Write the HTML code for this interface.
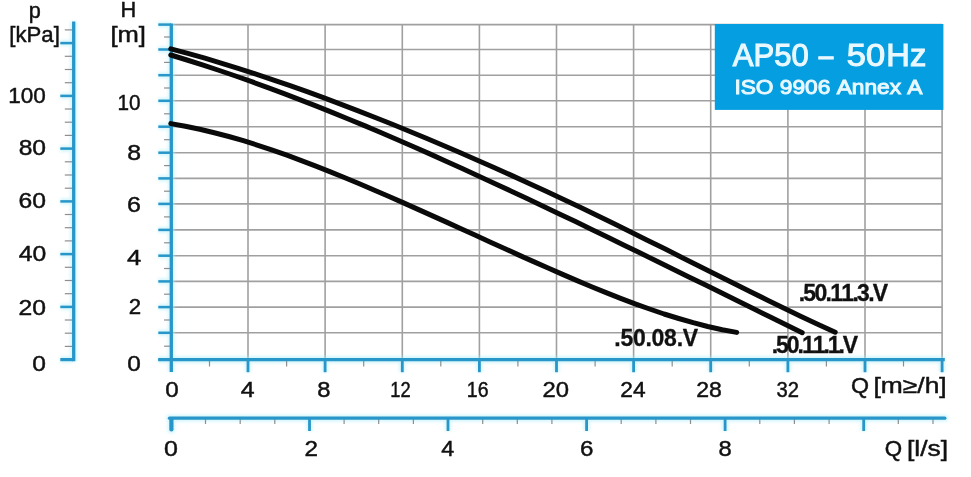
<!DOCTYPE html>
<html><head><meta charset="utf-8"><title>AP50 – 50 Hz</title>
<style>html,body{margin:0;padding:0;background:#fff;}body{width:971px;height:477px;overflow:hidden;font-family:"Liberation Sans",sans-serif;}svg{display:block;}</style>
</head><body>
<svg width="971" height="477" viewBox="0 0 971 477">
<rect width="971" height="477" fill="#fff"/>
<g stroke="#a0a0a0" stroke-width="1.6" fill="none">
<line x1="170.9" y1="332.8" x2="942.1" y2="332.8"/>
<line x1="170.9" y1="307.1" x2="942.1" y2="307.1"/>
<line x1="170.9" y1="281.4" x2="942.1" y2="281.4"/>
<line x1="170.9" y1="255.7" x2="942.1" y2="255.7"/>
<line x1="170.9" y1="229.9" x2="942.1" y2="229.9"/>
<line x1="170.9" y1="203.9" x2="942.1" y2="203.9"/>
<line x1="170.9" y1="178.4" x2="942.1" y2="178.4"/>
<line x1="170.9" y1="152.7" x2="942.1" y2="152.7"/>
<line x1="170.9" y1="126.7" x2="942.1" y2="126.7"/>
<line x1="170.9" y1="100.8" x2="942.1" y2="100.8"/>
<line x1="170.9" y1="75.2" x2="942.1" y2="75.2"/>
<line x1="170.9" y1="49.5" x2="942.1" y2="49.5"/>
<line x1="170.9" y1="24.6" x2="942.1" y2="24.6"/>
<line x1="248.0" y1="24.6" x2="248.0" y2="359.7"/>
<line x1="325.1" y1="24.6" x2="325.1" y2="359.7"/>
<line x1="402.3" y1="24.6" x2="402.3" y2="359.7"/>
<line x1="479.4" y1="24.6" x2="479.4" y2="359.7"/>
<line x1="556.5" y1="24.6" x2="556.5" y2="359.7"/>
<line x1="633.6" y1="24.6" x2="633.6" y2="359.7"/>
<line x1="710.7" y1="24.6" x2="710.7" y2="359.7"/>
<line x1="787.9" y1="24.6" x2="787.9" y2="359.7"/>
<line x1="865.0" y1="24.6" x2="865.0" y2="359.7"/>
<line x1="942.1" y1="24.6" x2="942.1" y2="359.7"/>
</g>
<rect x="714.8" y="24" width="228.6" height="85.9" fill="#049ee1"/>
<defs><filter id="hb" x="-5%" y="-5%" width="110%" height="110%"><feGaussianBlur stdDeviation="1.6"/></filter></defs>
<g stroke="#aeeefa" fill="none" filter="url(#hb)" opacity="0.55">
<line x1="73.7" y1="21.6" x2="73.7" y2="361.2" stroke-width="6.8"/>
<line x1="60.3" y1="359.6" x2="73" y2="359.6" stroke-width="6.5"/>
<line x1="60.3" y1="306.9" x2="73" y2="306.9" stroke-width="6.0"/>
<line x1="60.3" y1="254.1" x2="73" y2="254.1" stroke-width="6.0"/>
<line x1="60.3" y1="201.4" x2="73" y2="201.4" stroke-width="6.0"/>
<line x1="60.3" y1="148.6" x2="73" y2="148.6" stroke-width="6.0"/>
<line x1="60.3" y1="95.9" x2="73" y2="95.9" stroke-width="6.0"/>
<line x1="60.3" y1="43.1" x2="73" y2="43.1" stroke-width="6.0"/>
<line x1="171.3" y1="23.4" x2="171.3" y2="372" stroke-width="6.8"/>
<line x1="158.3" y1="359.7" x2="171" y2="359.7" stroke-width="6.0"/>
<line x1="158.3" y1="332.8" x2="171" y2="332.8" stroke-width="6.0"/>
<line x1="158.3" y1="307.1" x2="171" y2="307.1" stroke-width="6.0"/>
<line x1="158.3" y1="281.4" x2="171" y2="281.4" stroke-width="6.0"/>
<line x1="158.3" y1="255.7" x2="171" y2="255.7" stroke-width="6.0"/>
<line x1="158.3" y1="229.9" x2="171" y2="229.9" stroke-width="6.0"/>
<line x1="158.3" y1="203.9" x2="171" y2="203.9" stroke-width="6.0"/>
<line x1="158.3" y1="178.4" x2="171" y2="178.4" stroke-width="6.0"/>
<line x1="158.3" y1="152.7" x2="171" y2="152.7" stroke-width="6.0"/>
<line x1="158.3" y1="126.7" x2="171" y2="126.7" stroke-width="6.0"/>
<line x1="158.3" y1="100.8" x2="171" y2="100.8" stroke-width="6.0"/>
<line x1="158.3" y1="75.2" x2="171" y2="75.2" stroke-width="6.0"/>
<line x1="158.3" y1="49.5" x2="171" y2="49.5" stroke-width="6.0"/>
<line x1="158.3" y1="24.6" x2="171" y2="24.6" stroke-width="6.0"/>
<line x1="158.3" y1="359.7" x2="944.8" y2="359.7" stroke-width="6.8" stroke-linecap="butt"/>
<line x1="248.0" y1="360" x2="248.0" y2="372.2" stroke-width="6.3"/>
<line x1="325.1" y1="360" x2="325.1" y2="372.2" stroke-width="6.3"/>
<line x1="402.3" y1="360" x2="402.3" y2="372.2" stroke-width="6.3"/>
<line x1="479.4" y1="360" x2="479.4" y2="372.2" stroke-width="6.3"/>
<line x1="556.5" y1="360" x2="556.5" y2="372.2" stroke-width="6.3"/>
<line x1="633.6" y1="360" x2="633.6" y2="372.2" stroke-width="6.3"/>
<line x1="710.7" y1="360" x2="710.7" y2="372.2" stroke-width="6.3"/>
<line x1="787.9" y1="360" x2="787.9" y2="372.2" stroke-width="6.3"/>
<line x1="865.0" y1="360" x2="865.0" y2="372.2" stroke-width="6.3"/>
<line x1="942.1" y1="360" x2="942.1" y2="372.2" stroke-width="6.3"/>
<line x1="169.5" y1="418.2" x2="944.8" y2="418.2" stroke-width="6.8" stroke-linecap="round"/>
<line x1="171.4" y1="419" x2="171.4" y2="429.5" stroke-width="7.7" stroke-linecap="round"/>
<line x1="309.5" y1="419" x2="309.5" y2="431" stroke-width="6.3"/>
<line x1="448.0" y1="419" x2="448.0" y2="431" stroke-width="6.3"/>
<line x1="586.6" y1="419" x2="586.6" y2="431" stroke-width="6.3"/>
<line x1="725.1" y1="419" x2="725.1" y2="431" stroke-width="6.3"/>
<line x1="863.7" y1="419" x2="863.7" y2="431" stroke-width="6.3"/>
</g>
<g stroke="#8e8e8e" stroke-width="1.2" fill="none">
<line x1="164" y1="346.2" x2="170" y2="346.2"/>
<line x1="164" y1="320.0" x2="170" y2="320.0"/>
<line x1="164" y1="294.2" x2="170" y2="294.2"/>
<line x1="164" y1="268.5" x2="170" y2="268.5"/>
<line x1="164" y1="242.8" x2="170" y2="242.8"/>
<line x1="164" y1="216.9" x2="170" y2="216.9"/>
<line x1="164" y1="191.2" x2="170" y2="191.2"/>
<line x1="164" y1="165.6" x2="170" y2="165.6"/>
<line x1="164" y1="139.7" x2="170" y2="139.7"/>
<line x1="164" y1="113.8" x2="170" y2="113.8"/>
<line x1="164" y1="88.0" x2="170" y2="88.0"/>
<line x1="164" y1="62.4" x2="170" y2="62.4"/>
<line x1="164" y1="37.0" x2="170" y2="37.0"/>
<line x1="64.8" y1="346.4" x2="73" y2="346.4"/>
<line x1="64.8" y1="333.2" x2="73" y2="333.2"/>
<line x1="64.8" y1="320.0" x2="73" y2="320.0"/>
<line x1="64.8" y1="293.7" x2="73" y2="293.7"/>
<line x1="64.8" y1="280.5" x2="73" y2="280.5"/>
<line x1="64.8" y1="267.3" x2="73" y2="267.3"/>
<line x1="64.8" y1="240.9" x2="73" y2="240.9"/>
<line x1="64.8" y1="227.7" x2="73" y2="227.7"/>
<line x1="64.8" y1="214.5" x2="73" y2="214.5"/>
<line x1="64.8" y1="188.2" x2="73" y2="188.2"/>
<line x1="64.8" y1="175.0" x2="73" y2="175.0"/>
<line x1="64.8" y1="161.8" x2="73" y2="161.8"/>
<line x1="64.8" y1="135.4" x2="73" y2="135.4"/>
<line x1="64.8" y1="122.2" x2="73" y2="122.2"/>
<line x1="64.8" y1="109.0" x2="73" y2="109.0"/>
<line x1="64.8" y1="82.7" x2="73" y2="82.7"/>
<line x1="64.8" y1="69.5" x2="73" y2="69.5"/>
<line x1="64.8" y1="56.3" x2="73" y2="56.3"/>
<line x1="64.8" y1="29.9" x2="73" y2="29.9"/>
<line x1="209.5" y1="360" x2="209.5" y2="366.5"/>
<line x1="286.6" y1="360" x2="286.6" y2="366.5"/>
<line x1="363.7" y1="360" x2="363.7" y2="366.5"/>
<line x1="440.8" y1="360" x2="440.8" y2="366.5"/>
<line x1="517.9" y1="360" x2="517.9" y2="366.5"/>
<line x1="595.1" y1="360" x2="595.1" y2="366.5"/>
<line x1="672.2" y1="360" x2="672.2" y2="366.5"/>
<line x1="749.3" y1="360" x2="749.3" y2="366.5"/>
<line x1="826.4" y1="360" x2="826.4" y2="366.5"/>
<line x1="903.5" y1="360" x2="903.5" y2="366.5"/>
<line x1="205.5" y1="418" x2="205.5" y2="424"/>
<line x1="240.2" y1="418" x2="240.2" y2="424"/>
<line x1="274.8" y1="418" x2="274.8" y2="424"/>
<line x1="344.1" y1="418" x2="344.1" y2="424"/>
<line x1="378.7" y1="418" x2="378.7" y2="424"/>
<line x1="413.4" y1="418" x2="413.4" y2="424"/>
<line x1="482.7" y1="418" x2="482.7" y2="424"/>
<line x1="517.3" y1="418" x2="517.3" y2="424"/>
<line x1="551.9" y1="418" x2="551.9" y2="424"/>
<line x1="621.2" y1="418" x2="621.2" y2="424"/>
<line x1="655.9" y1="418" x2="655.9" y2="424"/>
<line x1="690.5" y1="418" x2="690.5" y2="424"/>
<line x1="759.8" y1="418" x2="759.8" y2="424"/>
<line x1="794.4" y1="418" x2="794.4" y2="424"/>
<line x1="829.1" y1="418" x2="829.1" y2="424"/>
<line x1="898.3" y1="418" x2="898.3" y2="424"/>
<line x1="933.0" y1="418" x2="933.0" y2="424"/>
</g>
<g stroke="#2896c8" fill="none">
<line x1="73.7" y1="21.6" x2="73.7" y2="361.2" stroke-width="3.3"/>
<line x1="60.3" y1="359.6" x2="73" y2="359.6" stroke-width="3.2"/>
<line x1="60.3" y1="306.9" x2="73" y2="306.9" stroke-width="2.5"/>
<line x1="60.3" y1="254.1" x2="73" y2="254.1" stroke-width="2.5"/>
<line x1="60.3" y1="201.4" x2="73" y2="201.4" stroke-width="2.5"/>
<line x1="60.3" y1="148.6" x2="73" y2="148.6" stroke-width="2.5"/>
<line x1="60.3" y1="95.9" x2="73" y2="95.9" stroke-width="2.5"/>
<line x1="60.3" y1="43.1" x2="73" y2="43.1" stroke-width="2.5"/>
<line x1="171.3" y1="23.4" x2="171.3" y2="372" stroke-width="3.3"/>
<line x1="158.3" y1="359.7" x2="171" y2="359.7" stroke-width="2.5"/>
<line x1="158.3" y1="332.8" x2="171" y2="332.8" stroke-width="2.5"/>
<line x1="158.3" y1="307.1" x2="171" y2="307.1" stroke-width="2.5"/>
<line x1="158.3" y1="281.4" x2="171" y2="281.4" stroke-width="2.5"/>
<line x1="158.3" y1="255.7" x2="171" y2="255.7" stroke-width="2.5"/>
<line x1="158.3" y1="229.9" x2="171" y2="229.9" stroke-width="2.5"/>
<line x1="158.3" y1="203.9" x2="171" y2="203.9" stroke-width="2.5"/>
<line x1="158.3" y1="178.4" x2="171" y2="178.4" stroke-width="2.5"/>
<line x1="158.3" y1="152.7" x2="171" y2="152.7" stroke-width="2.5"/>
<line x1="158.3" y1="126.7" x2="171" y2="126.7" stroke-width="2.5"/>
<line x1="158.3" y1="100.8" x2="171" y2="100.8" stroke-width="2.5"/>
<line x1="158.3" y1="75.2" x2="171" y2="75.2" stroke-width="2.5"/>
<line x1="158.3" y1="49.5" x2="171" y2="49.5" stroke-width="2.5"/>
<line x1="158.3" y1="24.6" x2="171" y2="24.6" stroke-width="2.5"/>
<line x1="158.3" y1="359.7" x2="944.8" y2="359.7" stroke-width="3.3" stroke-linecap="butt"/>
<line x1="248.0" y1="360" x2="248.0" y2="372.2" stroke-width="2.8"/>
<line x1="325.1" y1="360" x2="325.1" y2="372.2" stroke-width="2.8"/>
<line x1="402.3" y1="360" x2="402.3" y2="372.2" stroke-width="2.8"/>
<line x1="479.4" y1="360" x2="479.4" y2="372.2" stroke-width="2.8"/>
<line x1="556.5" y1="360" x2="556.5" y2="372.2" stroke-width="2.8"/>
<line x1="633.6" y1="360" x2="633.6" y2="372.2" stroke-width="2.8"/>
<line x1="710.7" y1="360" x2="710.7" y2="372.2" stroke-width="2.8"/>
<line x1="787.9" y1="360" x2="787.9" y2="372.2" stroke-width="2.8"/>
<line x1="865.0" y1="360" x2="865.0" y2="372.2" stroke-width="2.8"/>
<line x1="942.1" y1="360" x2="942.1" y2="372.2" stroke-width="2.8"/>
<line x1="169.5" y1="418.2" x2="944.8" y2="418.2" stroke-width="3.3" stroke-linecap="round"/>
<line x1="171.4" y1="419" x2="171.4" y2="429.5" stroke-width="4.2" stroke-linecap="round"/>
<line x1="309.5" y1="419" x2="309.5" y2="431" stroke-width="2.8"/>
<line x1="448.0" y1="419" x2="448.0" y2="431" stroke-width="2.8"/>
<line x1="586.6" y1="419" x2="586.6" y2="431" stroke-width="2.8"/>
<line x1="725.1" y1="419" x2="725.1" y2="431" stroke-width="2.8"/>
<line x1="863.7" y1="419" x2="863.7" y2="431" stroke-width="2.8"/>
</g>
<g stroke="#0a0a0a" stroke-width="5.0" fill="none" stroke-linecap="round" stroke-linejoin="round">
<path d="M170.8,48.9 L187.8,53.4 L204.9,58.2 L221.9,63.3 L238.9,68.6 L256.0,74.1 L273.0,79.8 L290.1,85.7 L307.1,91.7 L324.1,97.9 L341.2,104.3 L358.2,110.8 L375.2,117.5 L392.3,124.3 L409.3,131.2 L426.3,138.3 L443.4,145.5 L460.4,152.8 L477.4,160.2 L494.5,167.7 L511.5,175.4 L528.6,183.2 L545.6,191.1 L562.6,199.1 L579.7,207.1 L596.7,215.3 L613.7,223.6 L630.8,232.0 L647.8,240.4 L664.8,248.8 L681.9,257.4 L698.9,265.9 L715.9,274.4 L733.0,283.0 L750.0,291.5 L767.1,299.9 L784.1,308.2 L801.1,316.4 L818.2,324.4 L835.2,332.2"/>
<path d="M170.8,55.0 L187.0,60.0 L203.2,65.1 L219.4,70.5 L235.6,76.0 L251.7,81.7 L267.9,87.6 L284.1,93.6 L300.3,99.8 L316.5,106.1 L332.7,112.6 L348.9,119.2 L365.1,125.9 L381.3,132.8 L397.5,139.7 L413.6,146.8 L429.8,153.9 L446.0,161.2 L462.2,168.5 L478.4,175.9 L494.6,183.4 L510.8,190.9 L527.0,198.5 L543.2,206.2 L559.4,213.9 L575.5,221.6 L591.7,229.4 L607.9,237.3 L624.1,245.2 L640.3,253.1 L656.5,261.0 L672.7,268.9 L688.9,276.9 L705.1,284.8 L721.3,292.8 L737.4,300.8 L753.6,308.8 L769.8,316.8 L786.0,324.7 L802.2,332.7"/>
<path d="M170.8,123.6 L185.3,126.2 L199.8,129.2 L214.3,132.7 L228.8,136.5 L243.4,140.7 L257.9,145.3 L272.4,150.1 L286.9,155.2 L301.4,160.6 L315.9,166.1 L330.4,171.8 L344.9,177.7 L359.4,183.8 L373.9,190.0 L388.5,196.2 L403.0,202.6 L417.5,209.1 L432.0,215.6 L446.5,222.1 L461.0,228.7 L475.5,235.3 L490.0,242.0 L504.5,248.5 L519.0,255.1 L533.6,261.6 L548.1,268.0 L562.6,274.4 L577.1,280.6 L591.6,286.7 L606.1,292.6 L620.6,298.3 L635.1,303.8 L649.6,309.0 L664.1,314.0 L678.7,318.5 L693.2,322.7 L707.7,326.5 L722.2,329.7 L736.7,332.4"/>
</g>
<g font-family="'Liberation Sans', sans-serif" style="font-kerning:none">
<text x="28.83" y="17.60" font-size="21.5" font-weight="normal" fill="#111" stroke="#111" stroke-width="0.45" textLength="12.06" lengthAdjust="spacingAndGlyphs">p</text>
<text x="9.34" y="41.50" font-size="21.5" font-weight="normal" fill="#111" stroke="#111" stroke-width="0.45" textLength="50.51" lengthAdjust="spacingAndGlyphs">[kPa]</text>
<text x="120.44" y="17.40" font-size="21.5" font-weight="normal" fill="#111" stroke="#111" stroke-width="0.45" textLength="15.71" lengthAdjust="spacingAndGlyphs">H</text>
<text x="110.40" y="41.50" font-size="21.5" font-weight="normal" fill="#111" stroke="#111" stroke-width="0.45" textLength="35.49" lengthAdjust="spacingAndGlyphs">[m]</text>
<text x="8.31" y="103.25" font-size="21.5" font-weight="normal" fill="#111" stroke="#111" stroke-width="0.45" textLength="37.54" lengthAdjust="spacingAndGlyphs">100</text>
<text x="18.66" y="155.20" font-size="21.5" font-weight="normal" fill="#111" stroke="#111" stroke-width="0.45" textLength="27.38" lengthAdjust="spacingAndGlyphs">80</text>
<text x="18.57" y="208.40" font-size="21.5" font-weight="normal" fill="#111" stroke="#111" stroke-width="0.45" textLength="27.47" lengthAdjust="spacingAndGlyphs">60</text>
<text x="18.76" y="260.90" font-size="21.5" font-weight="normal" fill="#111" stroke="#111" stroke-width="0.45" textLength="27.48" lengthAdjust="spacingAndGlyphs">40</text>
<text x="18.58" y="314.90" font-size="21.5" font-weight="normal" fill="#111" stroke="#111" stroke-width="0.45" textLength="27.46" lengthAdjust="spacingAndGlyphs">20</text>
<text x="32.26" y="371.00" font-size="21.5" font-weight="normal" fill="#111" stroke="#111" stroke-width="0.45" textLength="13.67" lengthAdjust="spacingAndGlyphs">0</text>
<text x="117.55" y="110.40" font-size="21.5" font-weight="normal" fill="#111" stroke="#111" stroke-width="0.45" textLength="23.04" lengthAdjust="spacingAndGlyphs">10</text>
<text x="127.35" y="160.40" font-size="21.5" font-weight="normal" fill="#111" stroke="#111" stroke-width="0.45" textLength="13.81" lengthAdjust="spacingAndGlyphs">8</text>
<text x="126.95" y="211.70" font-size="21.5" font-weight="normal" fill="#111" stroke="#111" stroke-width="0.45" textLength="13.92" lengthAdjust="spacingAndGlyphs">6</text>
<text x="127.14" y="264.80" font-size="21.5" font-weight="normal" fill="#111" stroke="#111" stroke-width="0.45" textLength="14.29" lengthAdjust="spacingAndGlyphs">4</text>
<text x="128.70" y="314.40" font-size="21.5" font-weight="normal" fill="#111" stroke="#111" stroke-width="0.45" textLength="12.39" lengthAdjust="spacingAndGlyphs">2</text>
<text x="127.17" y="371.00" font-size="21.5" font-weight="normal" fill="#111" stroke="#111" stroke-width="0.45" textLength="13.55" lengthAdjust="spacingAndGlyphs">0</text>
<text x="165.28" y="397.30" font-size="21.5" font-weight="normal" fill="#111" stroke="#111" stroke-width="0.45" textLength="13.44" lengthAdjust="spacingAndGlyphs">0</text>
<text x="240.85" y="397.30" font-size="21.5" font-weight="normal" fill="#111" stroke="#111" stroke-width="0.45" textLength="13.85" lengthAdjust="spacingAndGlyphs">4</text>
<text x="317.19" y="397.30" font-size="21.5" font-weight="normal" fill="#111" stroke="#111" stroke-width="0.45" textLength="13.22" lengthAdjust="spacingAndGlyphs">8</text>
<text x="390.33" y="397.30" font-size="21.5" font-weight="normal" fill="#111" stroke="#111" stroke-width="0.45" textLength="20.37" lengthAdjust="spacingAndGlyphs">12</text>
<text x="466.84" y="397.30" font-size="21.5" font-weight="normal" fill="#111" stroke="#111" stroke-width="0.45" textLength="21.69" lengthAdjust="spacingAndGlyphs">16</text>
<text x="542.53" y="397.30" font-size="21.5" font-weight="normal" fill="#111" stroke="#111" stroke-width="0.45" textLength="26.48" lengthAdjust="spacingAndGlyphs">20</text>
<text x="620.38" y="397.30" font-size="21.5" font-weight="normal" fill="#111" stroke="#111" stroke-width="0.45" textLength="25.26" lengthAdjust="spacingAndGlyphs">24</text>
<text x="696.27" y="397.30" font-size="21.5" font-weight="normal" fill="#111" stroke="#111" stroke-width="0.45" textLength="25.61" lengthAdjust="spacingAndGlyphs">28</text>
<text x="776.46" y="397.30" font-size="21.5" font-weight="normal" fill="#111" stroke="#111" stroke-width="0.45" textLength="22.43" lengthAdjust="spacingAndGlyphs">32</text>
<text x="164.05" y="456.30" font-size="21.5" font-weight="normal" fill="#111" stroke="#111" stroke-width="0.45" textLength="13.90" lengthAdjust="spacingAndGlyphs">0</text>
<text x="304.61" y="456.30" font-size="21.5" font-weight="normal" fill="#111" stroke="#111" stroke-width="0.45" textLength="13.49" lengthAdjust="spacingAndGlyphs">2</text>
<text x="441.39" y="456.30" font-size="21.5" font-weight="normal" fill="#111" stroke="#111" stroke-width="0.45" textLength="12.97" lengthAdjust="spacingAndGlyphs">4</text>
<text x="580.00" y="456.30" font-size="21.5" font-weight="normal" fill="#111" stroke="#111" stroke-width="0.45" textLength="13.44" lengthAdjust="spacingAndGlyphs">6</text>
<text x="718.59" y="456.30" font-size="21.5" font-weight="normal" fill="#111" stroke="#111" stroke-width="0.45" textLength="13.22" lengthAdjust="spacingAndGlyphs">8</text>
<text x="851.13" y="393.40" font-size="21.5" font-weight="normal" fill="#111" stroke="#111" stroke-width="0.45" textLength="18.06" lengthAdjust="spacingAndGlyphs">Q</text>
<text x="873.54" y="393.40" font-size="21.5" font-weight="normal" fill="#111" stroke="#111" stroke-width="0.45" textLength="73.11" lengthAdjust="spacingAndGlyphs">[m≥/h]</text>
<text x="884.87" y="456.30" font-size="21.5" font-weight="normal" fill="#111" stroke="#111" stroke-width="0.45" textLength="17.38" lengthAdjust="spacingAndGlyphs">Q</text>
<text x="907.04" y="456.30" font-size="21.5" font-weight="normal" fill="#111" stroke="#111" stroke-width="0.45" textLength="41.12" lengthAdjust="spacingAndGlyphs">[l/s]</text>
<text x="798.69" y="300.80" font-size="23.0" font-weight="bold" fill="#111" stroke="#111" stroke-width="0.3" textLength="89.52" lengthAdjust="spacing">.50.11.3.V</text>
<text x="614.29" y="345.80" font-size="23.0" font-weight="bold" fill="#111" stroke="#111" stroke-width="0.3" textLength="83.82" lengthAdjust="spacing">.50.08.V</text>
<text x="771.79" y="353.40" font-size="23.0" font-weight="bold" fill="#111" stroke="#111" stroke-width="0.3" textLength="86.32" lengthAdjust="spacing">.50.11.1.V</text>
<text x="732.79" y="66.10" font-size="32.2" font-weight="normal" fill="#e9f8ff" stroke="#e9f8ff" stroke-width="1.1" textLength="75.97" lengthAdjust="spacingAndGlyphs">AP50</text>
<text x="818.85" y="66.10" font-size="32.2" font-weight="normal" fill="#e9f8ff" stroke="#e9f8ff" stroke-width="1.1" textLength="14.51" lengthAdjust="spacingAndGlyphs">–</text>
<text x="846.77" y="66.10" font-size="32.2" font-weight="normal" fill="#e9f8ff" stroke="#e9f8ff" stroke-width="1.1" textLength="38.33" lengthAdjust="spacingAndGlyphs">50</text>
<text x="886.37" y="66.10" font-size="32.2" font-weight="normal" fill="#e9f8ff" stroke="#e9f8ff" stroke-width="1.1" textLength="39.90" lengthAdjust="spacingAndGlyphs">Hz</text>
<text x="734.40" y="93.85" font-size="21.0" font-weight="normal" fill="#e9f8ff" stroke="#e9f8ff" stroke-width="1.0" textLength="188.14" lengthAdjust="spacingAndGlyphs">ISO 9906 Annex A</text>
</g>
</svg>
</body></html>
